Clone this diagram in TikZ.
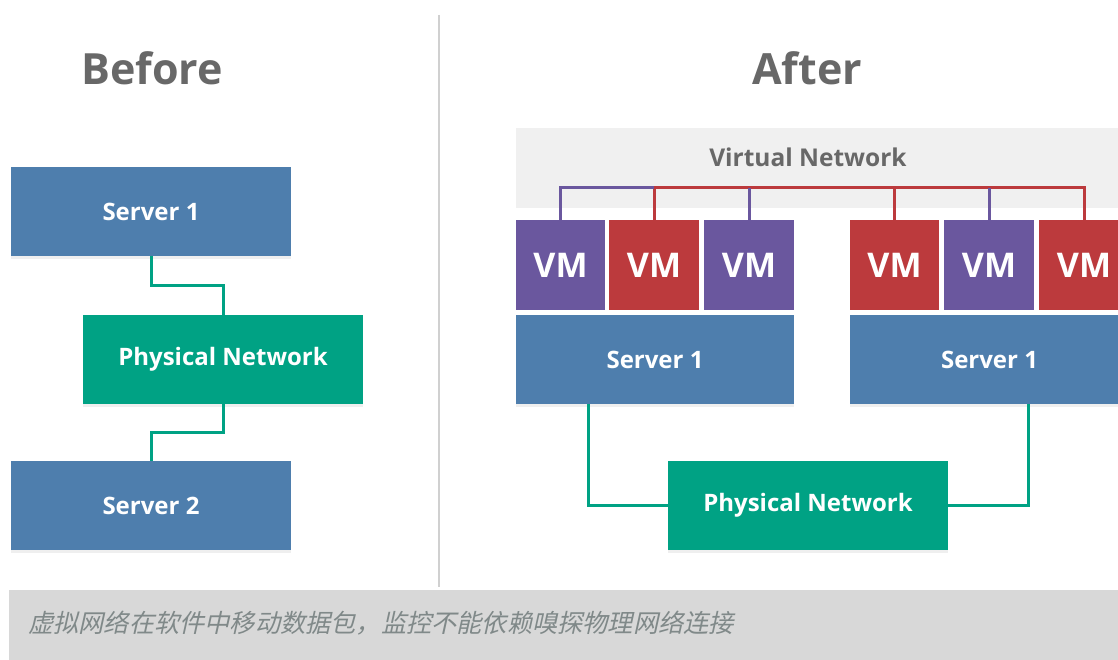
\documentclass[tikz,border=0pt]{standalone}
\usepackage{fontspec}
\setmainfont{Open Sans}
\newfontfamily\cjk[FakeSlant=0.22]{Noto Sans CJK SC}
\usetikzlibrary{calc,shadows}

\definecolor{srvblue}{HTML}{4E7EAD}
\definecolor{netteal}{HTML}{00A284}
\definecolor{vmpurple}{HTML}{6A579E}
\definecolor{vmred}{HTML}{BC3A3D}
\definecolor{titlegray}{HTML}{686868}
\definecolor{bandgray}{HTML}{F0F0F0}
\definecolor{captiongray}{HTML}{D8D8D8}
\definecolor{captiontext}{HTML}{808989}
\definecolor{rulegray}{HTML}{D0D0D0}

\tikzset{
  box/.style={rectangle, inner sep=0pt, text=white,
    font=\bfseries\fontsize{24}{24}\selectfont,
    drop shadow={opacity=0.12, shadow xshift=0pt, shadow yshift=-2.5pt}},
  server/.style={box, fill=srvblue, minimum width=280, minimum height=89},
  phys/.style={box, fill=netteal, minimum width=280, minimum height=89},
  vm/.style={rectangle, inner sep=0pt, text=white, minimum width=89.5, minimum height=90,
    font=\bfseries\fontsize{34}{34}\selectfont},
  vmp/.style={vm, fill=vmpurple},
  vmr/.style={vm, fill=vmred},
  title/.style={text=titlegray, font=\bfseries\fontsize{43}{43}\selectfont},
  wire/.style={draw=netteal, line width=3pt},
  pwire/.style={draw=vmpurple, line width=3pt},
  rwire/.style={draw=vmred, line width=3pt},
}

\begin{document}
\begin{tikzpicture}[x=1pt, y=-1pt]
\useasboundingbox (0,0) rectangle (1118,660);
\clip (0,0) rectangle (1118,660);
\fill[white] (0,0) rectangle (1118,660);

% column divider
\draw[rulegray, line width=2pt] (439,15) coordinate (divtop) -- (439,587) coordinate (divbot);

% ---------- Before ----------
\node[title] (tbefore) at (152,68) {Before};
\node[server] (s1) at (151,211.5) {Server 1};
\node[phys]   (pn1) at (223,359.5) {Physical Network};
\node[server] (s2) at (151,505.5) {Server 2};
\draw[wire] (s1.south) -- ++(0,29) -| (pn1.north);
\draw[wire] (pn1.south) -- ++(0,28) -| (s2.north);

% ---------- After ----------
\node[title] (tafter) at (807,68) {After};

% virtual network band
\fill[bandgray] (516,128) rectangle (1130,208);
\node[text=titlegray, font=\bfseries\fontsize{24.5}{25}\selectfont] (vnet) at (808,157) {Virtual Network};
\coordinate (bus) at (0,188);

% virtual machines
\node[vmp] (vm1) at (560.5,265) {VM};
\node[vmr] (vm2) at (654,265) {VM};
\node[vmp] (vm3) at (749,265) {VM};
\node[vmr] (vm4) at (894.5,265) {VM};
\node[vmp] (vm5) at (989,265) {VM};
\node[vmr] (vm6) at (1084,265) {VM};

% virtual links
\draw[rwire] (vm2.north) |- (vm6.north |- bus) -- (vm6.north);
\draw[rwire] (vm4.north) -- (vm4.north |- bus);
\draw[pwire] (vm1.north) |- (vm2.north |- bus);
\draw[pwire] (vm3.north) -- (vm3.north |- bus);
\draw[pwire] (vm5.north) -- (vm5.north |- bus);

% hosts
\node[server, minimum width=278] (sa) at (655,359.5) {Server 1};
\node[server, minimum width=279] (sb) at (989.5,359.5) {Server 1};
\node[phys] (pn2) at (808,505.5) {Physical Network};
\draw[wire] (pn2.west) -| ($(sa.south west)+(73,0)$);
\draw[wire] (pn2.east) -| ($(sb.south west)+(179,0)$);

% ---------- caption ----------
\fill[captiongray] (9,590) rectangle (1118,660);
\node[anchor=west, inner sep=0pt, text=captiontext, font=\cjk\fontsize{25.2}{26}\selectfont] (cap) at (28,623)
  {虚拟网络在软件中移动数据包，监控不能依赖嗅探物理网络连接};
\end{tikzpicture}
\end{document}
